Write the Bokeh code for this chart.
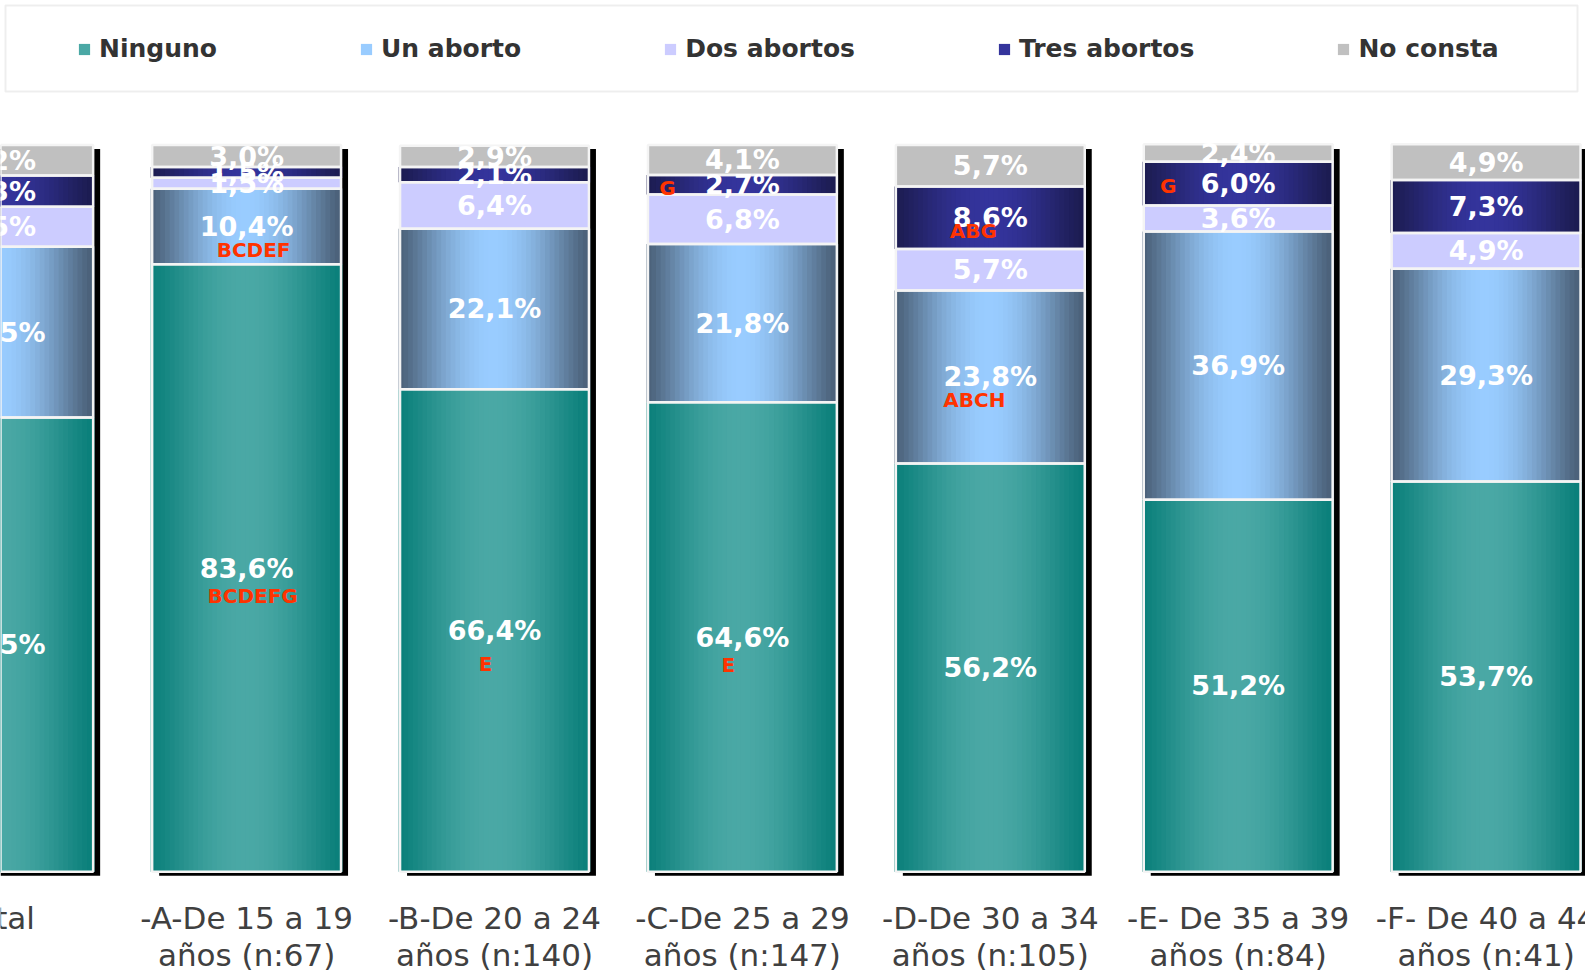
import numpy as np
from bokeh.plotting import figure
from bokeh.models import (ColumnDataSource, Legend, LegendItem, BoxAnnotation, Range1d)
from bokeh.embed import file_html
from bokeh.resources import INLINE

# ---------------- data ----------------
categories = ["Total",
              "-A-De 15 a 19\naños (n:67)",
              "-B-De 20 a 24\naños (n:140)",
              "-C-De 25 a 29\naños (n:147)",
              "-D-De 30 a 34\naños (n:105)",
              "-E- De 35 a 39\naños (n:84)",
              "-F- De 40 a 44\naños (n:41)"]
series = ["Ninguno", "Un aborto", "Dos abortos", "Tres abortos", "No consta"]
ninguno = [62.5, 83.6, 66.4, 64.6, 56.2, 51.2, 53.7]
un_aborto = [23.5, 10.4, 22.1, 21.8, 23.8, 36.9, 29.3]
dos_abortos = [5.5, 1.5, 6.4, 6.8, 5.7, 3.6, 4.9]
tres_abortos = [4.3, 1.5, 2.1, 2.7, 8.6, 6.0, 7.3]
no_consta = [4.2, 3.0, 2.9, 4.1, 5.7, 2.4, 4.9]

# significance letters: category index, series index, text
sig_cat = [1, 1, 2, 3, 3, 4, 4, 5]
sig_series = [0, 1, 0, 0, 3, 3, 1, 3]
sig_text = ["BCDEFG", "BCDEF", "E", "E", "G", "ABG", "ABCH", "G"]

# ---------------- style / layout ----------------
sig_dx = [6, 7, -9, -14, -75, -17, -16, -70]
sig_dy = [-28, -24, -33, -28, -3, -13, -23, -2]

FW, FH = 1585, 972
PXU = 247.9          # px per category unit
PYU = 7.267          # px per percent
XS = 1.8 / PXU
XE = XS + FW / PXU
YE = 100 + 144.6 / PYU
YS = YE - FH / PYU
BW = 0.762


def ydata(py):
    return YE - py / PYU


values = [ninguno, un_aborto, dos_abortos, tres_abortos, no_consta]
grads = [((10, 127, 122), (74, 168, 165)),
         ((74, 96, 120), (153, 204, 255)),
         None,
         ((28, 28, 80), (52, 52, 156)),
         None]
flat = ["#2c9692", "#80b4e6", "#ccccff", "#2e2e8c", "#c0c0c0"]

p = figure(frame_width=FW, frame_height=FH, x_range=Range1d(XS, XE),
           y_range=Range1d(YS, YE), output_backend="svg", toolbar_location=None,
           min_border=0, x_axis_location=None, y_axis_location=None,
           outline_line_color=None,
           background_fill_color="white", border_fill_color="white")
p.xgrid.visible = False
p.ygrid.visible = False

ncat = len(categories)
xs = list(range(ncat))

# shadow
p.vbar(x=[x + 7 / PXU for x in xs], width=BW, top=[100 - 4 / PYU] * ncat,
       bottom=[-4 / PYU] * ncat, fill_color="black", line_color=None)

N = 40
t = (np.arange(N) + 0.5) / N
w = np.sin(np.pi * t) ** 1.2

cum = np.zeros(ncat)
mids = []
seg_x, seg_top, seg_bot = [], [], []
leg_renderers = []
for s, vals in enumerate(values):
    vals = np.array(vals, dtype=float)
    bot = cum.copy()
    top = cum + vals
    mids.append((bot + top) / 2)
    seg_x += xs
    seg_top += list(top)
    seg_bot += list(bot)
    if grads[s] is None:
        r = p.vbar(x=xs, width=BW, top=top, bottom=bot, fill_color=flat[s], line_color=None)
        leg_renderers.append((r, 0))
    else:
        e = np.array(grads[s][0], float)
        c = np.array(grads[s][1], float)
        cols = e[None, :] + (c - e)[None, :] * w[:, None]
        hexcols = ["#%02x%02x%02x" % tuple(int(round(v)) for v in row) for row in cols]
        sx, st, sb, sc = [], [], [], []
        for i in xs:
            for j in range(N):
                sx.append(i - BW / 2 + t[j] * BW)
                st.append(top[i])
                sb.append(bot[i])
                sc.append(hexcols[j])
        src = ColumnDataSource(dict(x=sx, top=st, bottom=sb, color=sc))
        r = p.vbar(x="x", width=BW / N * 1.6, top="top", bottom="bottom",
                   fill_color="color", line_color=None, source=src)
        leg_renderers.append((r, N * 1 + N // 2))
    cum = top

# white separators / outlines
p.vbar(x=seg_x, width=BW, top=seg_top, bottom=seg_bot, fill_alpha=0,
       line_color="#f4f4f4", line_width=2.5)

# value labels
lx, ly, lt = [], [], []
for s, vals in enumerate(values):
    for i in xs:
        lx.append(i)
        ly.append(mids[s][i])
        lt.append(("%.1f%%" % vals[i]).replace(".", ","))
p.text(x="x", y="y", text="t", source=ColumnDataSource(dict(x=lx, y=ly, t=lt)),
       text_color="white", text_font={"value": "DejaVu Sans"}, text_font_style="bold",
       text_font_size="27px", text_align="center", text_baseline="middle")

# significance letters
sx_ = [sig_cat[k] for k in range(len(sig_cat))]
sy_ = [mids[sig_series[k]][sig_cat[k]] for k in range(len(sig_cat))]
p.text(x="x", y="y", text="t", x_offset="dx", y_offset="dy",
       source=ColumnDataSource(dict(x=sx_, y=sy_, t=sig_text,
                                    dx=sig_dx, dy=[-d for d in sig_dy])),
       text_color="#ff3300", text_font={"value": "DejaVu Sans"}, text_font_style="bold",
       text_font_size="20px", text_align="center", text_baseline="middle")

# category labels (two lines under each bar)
line1 = [c.split("\n")[0] for c in categories]
line2 = [c.split("\n")[1] if "\n" in c else "" for c in categories]
cat_src = ColumnDataSource(dict(x=xs, y1=[ydata(917)] * ncat, y2=[ydata(954)] * ncat,
                                l1=line1, l2=line2))
for yk, tk in (("y1", "l1"), ("y2", "l2")):
    p.text(x="x", y=yk, text=tk, source=cat_src, text_align="center",
           text_baseline="middle", text_font={"value": "DejaVu Sans"},
           text_font_size="31px", text_color="#404040")

# legend frame
p.add_layout(BoxAnnotation(left=XS + 5 / PXU, right=XS + 1577 / PXU,
                           top=ydata(5), bottom=ydata(91),
                           fill_alpha=0, line_color="#c8c8c8", line_width=2))

items = []
for s in range(len(series)):
    r, idx = leg_renderers[s]
    items.append(LegendItem(label=series[s], renderers=[r], index=idx))
legend = Legend(items=items, orientation="horizontal", location=(77, FH - 34 - 29),
                glyph_width=14, glyph_height=14, label_standoff=8, spacing=142,
                padding=0, border_line_alpha=0, background_fill_alpha=0,
                label_text_font="DejaVu Sans", label_text_font_style="bold",
                label_text_font_size="25px", label_text_color="#333333")
p.add_layout(legend)

open("out.html", "w").write(file_html(p, INLINE))
